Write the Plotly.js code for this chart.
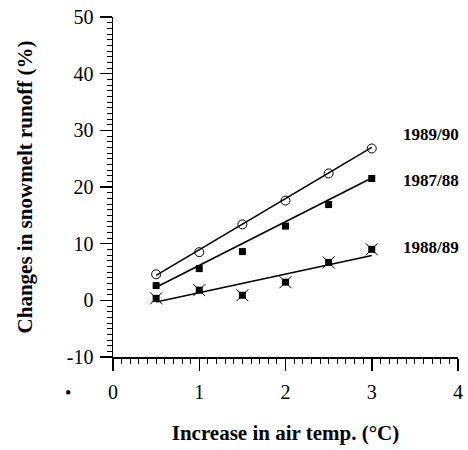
<!DOCTYPE html>
<html>
<head>
<meta charset="utf-8">
<script src="https://cdn.plot.ly/plotly-3.0.1.min.js"></script>
<style>html,body{margin:0;padding:0;background:#fff;}#chart{width:468px;height:450px;}</style>
</head>
<body>
<div id="chart"></div>
<script>
// Data
var tempIncrease = [0.5, 1, 1.5, 2, 2.5, 3];
var runoff1989_90 = [4.6, 8.5, 13.4, 17.6, 22.4, 26.8];
var runoff1987_88 = [2.6, 5.6, 8.6, 13.1, 16.9, 21.5];
var runoff1988_89 = [0.35, 1.8, 0.9, 3.2, 6.7, 9.0];
// Fitted line end points
var fitX = [0.5, 3];
var fit1989_90 = [4.4, 27.0];
var fit1987_88 = [2.3, 21.6];
var fit1988_89 = [-0.3, 7.9];
var seriesNames = ["1989/90", "1987/88", "1988/89"];
// Tick labels
var xTickVals = [0, 1, 2, 3, 4];
var xTickText = ["0", "1", "2", "3", "4"];
var yTickVals = [-10, 0, 10, 20, 30, 40, 50];
var yTickText = ["-10", "0", "10", "20", "30", "40", "50"];

var serif = "Liberation Serif";
var lineStyle = {color: "#000", width: 1.6};

var traces = [
  {x: fitX, y: fit1989_90, mode: "lines", line: lineStyle, hoverinfo: "skip"},
  {x: fitX, y: fit1987_88, mode: "lines", line: lineStyle, hoverinfo: "skip"},
  {x: fitX, y: fit1988_89, mode: "lines", line: lineStyle, hoverinfo: "skip"},
  {x: tempIncrease, y: runoff1989_90, mode: "markers", name: seriesNames[0],
   marker: {symbol: "circle-open", size: 9, color: "#000", line: {width: 1, color: "#000"}}},
  {x: tempIncrease, y: runoff1987_88, mode: "markers", name: seriesNames[1],
   marker: {symbol: "square", size: 7, color: "#000"}},
  {x: tempIncrease, y: runoff1988_89, mode: "markers", name: seriesNames[2],
   marker: {symbol: "square", size: 7, color: "#000"}},
  {x: tempIncrease, y: runoff1988_89, mode: "markers", name: seriesNames[2],
   marker: {symbol: "x-thin-open", size: 12, color: "#000", line: {width: 1, color: "#000"}}}
];

var layout = {
  width: 468, height: 450,
  margin: {l: 113, r: 10, t: 17, b: 93},
  paper_bgcolor: "#fff", plot_bgcolor: "#fff",
  showlegend: false,
  font: {family: serif, color: "#000", size: 17},
  xaxis: {
    range: [0, 4], tickmode: "array", tickvals: xTickVals, ticktext: xTickText,
    showgrid: false, zeroline: false,
    showline: true, linecolor: "#000", linewidth: 1.5,
    ticks: "outside", ticklen: 12, tickwidth: 1.5, tickcolor: "#000",
    minor: {dtick: 0.1, tick0: 0, ticks: "outside", ticklen: 5, tickwidth: 1, tickcolor: "#000", showgrid: false},
    tickfont: {family: serif, size: 20},
    ticklabelstandoff: 4,
    title: {text: "<b>Increase in air temp. (°C)</b>", font: {family: serif, size: 21}, standoff: 24}
  },
  yaxis: {
    range: [-10, 50], tickmode: "array", tickvals: yTickVals, ticktext: yTickText,
    showgrid: false, zeroline: false,
    showline: true, linecolor: "#000", linewidth: 1.5,
    ticks: "outside", ticklen: 12, tickwidth: 1.5, tickcolor: "#000",
    minor: {dtick: 1, tick0: 0, ticks: "outside", ticklen: 5, tickwidth: 1, tickcolor: "#000", showgrid: false},
    tickfont: {family: serif, size: 20},
    ticklabelstandoff: 2,
    title: {text: "<b>Changes in snowmelt runoff (%)</b>", font: {family: serif, size: 21}, standoff: 28}
  },
  annotations: [
    {x: 3.69, y: 29.3, xref: "x", yref: "y", text: "<b>" + seriesNames[0] + "</b>", showarrow: false, xanchor: "center", font: {family: serif, size: 17}},
    {x: 3.69, y: 21.2, xref: "x", yref: "y", text: "<b>" + seriesNames[1] + "</b>", showarrow: false, xanchor: "center", font: {family: serif, size: 17}},
    {x: 3.69, y: 9.35, xref: "x", yref: "y", text: "<b>" + seriesNames[2] + "</b>", showarrow: false, xanchor: "center", font: {family: serif, size: 17}},
    {x: -0.13, y: -0.106, xref: "paper", yref: "paper", text: "•", showarrow: false, xanchor: "center", yanchor: "middle", font: {family: serif, size: 18}}
  ]
};

Plotly.newPlot("chart", traces, layout, {displayModeBar: false, staticPlot: true});
</script>
</body>
</html>
